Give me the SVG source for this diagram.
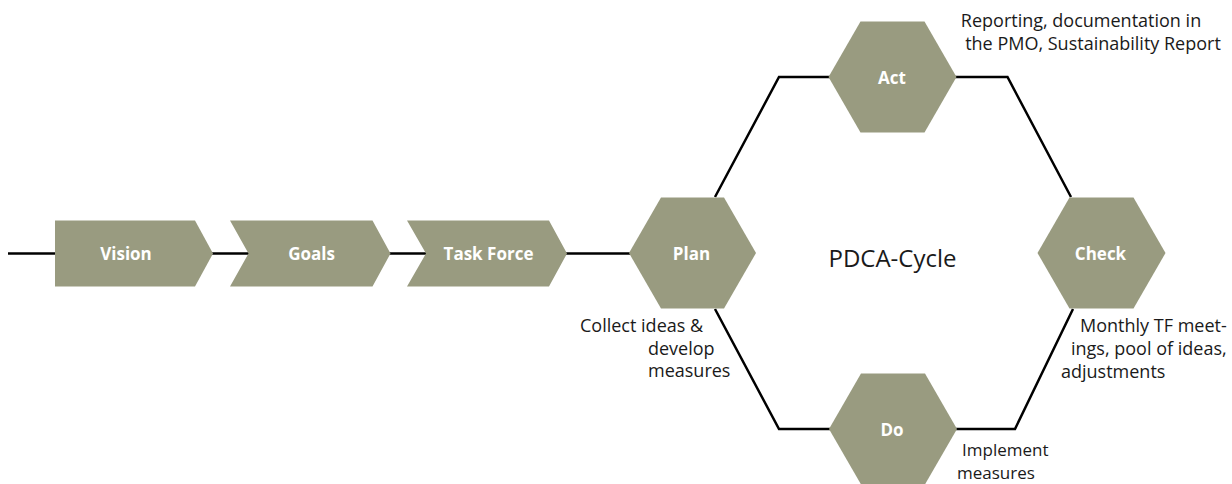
<svg xmlns="http://www.w3.org/2000/svg" width="1232" height="484" viewBox="0 0 1232 484">
<style>
.shape{fill:#999b80;}
.lbl{font-family:"Open Sans","Liberation Sans",sans-serif;font-weight:bold;font-size:17px;fill:#ffffff;text-anchor:middle;}
.note{font-family:"Open Sans","Liberation Sans",sans-serif;font-size:18px;fill:#1a1a1a;}
.note2{font-family:"Open Sans","Liberation Sans",sans-serif;font-size:17px;fill:#1a1a1a;}
.title{font-family:"Open Sans","Liberation Sans",sans-serif;font-size:24px;fill:#1a1a1a;}
.conn{fill:none;stroke:#000000;stroke-width:2.5;stroke-linejoin:miter;}
</style>
<rect width="1232" height="484" fill="#ffffff"/>
<g id="connectors">
<line class="conn" x1="8" y1="253.5" x2="56" y2="253.5"/>
<line class="conn" x1="212" y1="253.5" x2="250" y2="253.5"/>
<line class="conn" x1="389" y1="253.5" x2="427" y2="253.5"/>
<line class="conn" x1="566" y1="253.5" x2="630" y2="253.5"/>
<polyline class="conn" points="715,197 779,77 830,77"/>
<polyline class="conn" points="955,77 1007.5,77 1071,197"/>
<polyline class="conn" points="715,309 779,429 830,429"/>
<polyline class="conn" points="955,429 1015,429 1073,309"/>
</g>
<g id="vision">
<path class="shape" d="M55,220.5 H195 L213,253.5 L195,286.5 H55 Z"/>
<text class="lbl" x="126" y="260">Vision</text>
</g>
<g id="goals">
<path class="shape" d="M230,220.5 H372.5 L390.5,253.5 L372.5,286.5 H230 L248.5,253.5 Z"/>
<text class="lbl" x="311.5" y="260">Goals</text>
</g>
<g id="taskforce">
<path class="shape" d="M407,220.5 H549 L567,253.5 L549,286.5 H407 L426,253.5 Z"/>
<text class="lbl" x="488.5" y="260">Task Force</text>
</g>
<g id="plan">
<polygon class="shape" points="629,253 661,197.6 724,197.6 756,253 724,308.4 661,308.4"/>
<text class="lbl" x="691.5" y="259.5">Plan</text>
</g>
<g id="act">
<polygon class="shape" points="828.5,77 860.5,21.6 924.5,21.6 956.5,77 924.5,132.4 860.5,132.4"/>
<text class="lbl" x="892" y="83.5">Act</text>
</g>
<g id="check">
<polygon class="shape" points="1037.5,253 1069.5,197.6 1133.5,197.6 1165.5,253 1133.5,308.4 1069.5,308.4"/>
<text class="lbl" x="1100.5" y="259.5">Check</text>
</g>
<g id="do">
<polygon class="shape" points="829,429 861,373.6 925,373.6 957,429 925,484.4 861,484.4"/>
<text class="lbl" x="892" y="435.5">Do</text>
</g>
<text class="title" x="892.5" y="266.5" text-anchor="middle">PDCA-Cycle</text>
<g id="notes">
<text class="note" x="1081" y="27" text-anchor="middle">Reporting, documentation in</text>
<text class="note" x="1093" y="50" text-anchor="middle">the PMO, Sustainability Report</text>
<text class="note" x="580" y="332">Collect ideas &amp;</text>
<text class="note" x="648" y="355">develop</text>
<text class="note" x="648" y="377">measures</text>
<text class="note" x="1080" y="332">Monthly TF meet-</text>
<text class="note" x="1071" y="355">ings, pool of ideas,</text>
<text class="note" x="1061" y="378">adjustments</text>
<text class="note2" x="962" y="456">Implement</text>
<text class="note2" x="957" y="479">measures</text>
</g>
</svg>
